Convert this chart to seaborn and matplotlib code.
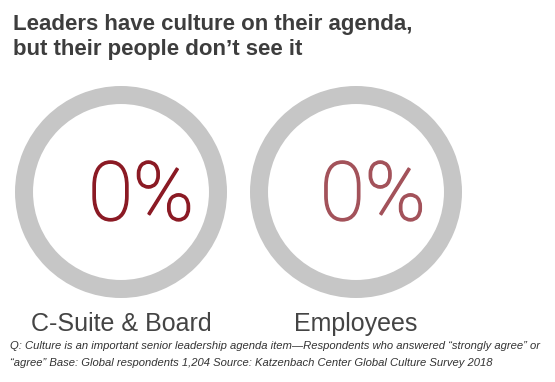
import numpy as np
import pandas as pd
import seaborn as sns
import matplotlib.pyplot as plt
import matplotlib.patheffects as pe

# data
groups = ["C-Suite & Board", "Employees"]
share_agree = [0, 0]
accent_colors = ["#8b1a24", "#a3525a"]

TITLE_LINES = ["Leaders have culture on their agenda,",
               "but their people don\u2019t see it"]
NOTE_LINES = ["Q: Culture is an important senior leadership agenda item\u2014Respondents who answered \u201cstrongly agree\u201d or",
              "\u201cagree\u201d Base: Global respondents 1,204 Source: Katzenbach Center Global Culture Survey 2018"]

RING_GRAY = "#c6c6c6"
TEXT_GRAY = "#3d3d3d"

W, H = 555, 382
DPI = 100

sns.set_theme(style="white")
plt.rcParams["font.family"] = ["Liberation Sans", "DejaVu Sans"]

df = pd.DataFrame({"group": groups, "value": share_agree, "color": accent_colors})

fig = plt.figure(figsize=(W / DPI, H / DPI), dpi=DPI)
fig.patch.set_facecolor("white")

# ring centres / radius in pixels (top-left origin)
centers_px = [(121, 192), (356, 192)]
radius_px = 106
text_dx = [0.19, 0.16]

for i, row in df.iterrows():
    cx, cy = centers_px[i]
    ax = fig.add_axes([(cx - radius_px) / W, (H - cy - radius_px) / H,
                       2 * radius_px / W, 2 * radius_px / H])
    ax.pie([row["value"], 100 - row["value"]],
           colors=[row["color"], RING_GRAY],
           startangle=90, counterclock=False, radius=1,
           wedgeprops=dict(width=0.17, linewidth=0))
    ax.set_xlim(-1, 1)
    ax.set_ylim(-1, 1)
    ax.set_aspect("equal")
    ax.axis("off")
    # thin face thickened a little to match the light weight of the original
    ax.text(text_dx[i], -0.265, f"{row['value']:.0f}%", ha="center", va="baseline",
            fontsize=59, color=row["color"], family=["Roboto", "DejaVu Sans"],
            fontweight="light",
            path_effects=[pe.withStroke(linewidth=1.1, foreground=row["color"])])
    fig.text(cx / W, 1 - 331 / H, row["group"], ha="center", va="baseline",
             fontsize=18, color="#444444", fontweight="light")

for line, y_px in zip(TITLE_LINES, [30, 55]):
    fig.text(13 / W, 1 - y_px / H, line, ha="left", va="baseline", fontsize=16,
             fontweight="bold", color=TEXT_GRAY)
for line, y_px in zip(NOTE_LINES, [349, 366]):
    fig.text(10 / W, 1 - y_px / H, line, ha="left", va="baseline", fontsize=8.1,
             style="italic", color="#333333")

plt.savefig("out.png", dpi=DPI)
plt.close()
